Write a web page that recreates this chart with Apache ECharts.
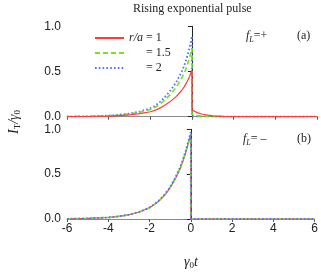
<!DOCTYPE html>
<html><head><meta charset="utf-8">
<script src="https://cdn.jsdelivr.net/npm/echarts@6/dist/echarts.min.js"></script>
<style>html,body{margin:0;padding:0;background:#fff}#c{width:321px;height:272px}</style>
</head><body><div id="c"></div>
<script>
// Time values gamma0*t
const tRise = [-6,-5,-4,-3.5,-3,-2.5,-2,-1.75,-1.5,-1.25,-1,-0.75,-0.5,-0.375,-0.25,-0.125,0];
// Panel (a) f_L = +  (rising part)
const aRed   = [0.0007,0.002,0.007,0.012,0.02,0.034,0.055,0.072,0.1,0.135,0.175,0.225,0.29,0.33,0.38,0.44,0.52];
const aGreen = [0.001,0.003,0.01,0.018,0.03,0.05,0.08,0.105,0.146,0.197,0.255,0.33,0.425,0.48,0.555,0.645,0.76];
const aBlue  = [0.0012,0.0035,0.012,0.021,0.034,0.058,0.094,0.123,0.171,0.231,0.3,0.385,0.495,0.565,0.65,0.755,0.89];
// Panel (a) decay after t=0
const tDecay = [0,0.25,0.5,0.75,1,1.5,2,3,6];
const aRedDecay   = [0.075,0.045,0.027,0.017,0.01,0.004,0.002,0.001,0];
const aGreenDecay = [0.025,0.012,0.005,0.002,0.001,0,0,0,0];
const aBlueDecay  = [0.003,0,0,0,0,0,0,0,0];
// Panel (b) f_L = -
const bRed   = [0.0025,0.0065,0.017,0.029,0.047,0.078,0.125,0.165,0.21,0.27,0.35,0.45,0.57,0.65,0.74,0.84,0.94];
const bGreen = [0.0025,0.0065,0.017,0.029,0.047,0.078,0.126,0.166,0.212,0.273,0.354,0.455,0.576,0.657,0.748,0.85,0.95];
const bBlue  = [0.0025,0.0066,0.017,0.03,0.048,0.08,0.128,0.169,0.216,0.278,0.36,0.463,0.587,0.668,0.762,0.865,0.97];
const bDecay = [0,0,0,0,0,0,0,0,0];
const names = ['r/a = 1','= 1.5','= 2'];
const xTicks = [-6,-4,-2,0,2,4,6];
const yTicks = [0,0.5,1];

const colors = ['#ff3b3b','#6ee619','#5c6cff'];
const styles = [
  {type:'solid', width:1.2},
  {type:[5,3], width:1.6},
  {type:[1.6,2.2], width:1.8}
];
function pairs(xs, ys){ return xs.map((x,i)=>[x, ys[i]]); }
function join(r, d){ return pairs(tRise, r).concat(pairs(tDecay, d)); }

const chart = echarts.init(document.getElementById('c'), null, {renderer:'canvas'});
const serif = '"Liberation Serif","DejaVu Serif",serif';
const sans = '"Liberation Sans",Arial,sans-serif';

function xAx(gi, showLabel){
  return {type:'value', gridIndex:gi, min:-6, max:6, interval:2,
    axisLine:{show:true, onZero:false, lineStyle:{color:'#8a8a8a', width:1}},
    axisTick:{show:true, inside:false, length:3, lineStyle:{color:'#555'}},
    splitLine:{show:false},
    axisLabel:{show:showLabel, fontFamily:sans, fontSize:12, color:'#222', margin:4,
      formatter:v=>xTicks.includes(v)?String(v):''}};
}
function yAx(gi){
  return {type:'value', gridIndex:gi, min:0, max:1, interval:0.5,
    axisLine:{show:true, lineStyle:{color:'#222', width:1}},
    axisTick:{show:true, length:4, lineStyle:{color:'#222'}},
    splitLine:{show:false},
    axisLabel:{fontFamily:sans, fontSize:12, color:'#222', margin:6,
      formatter:v=>yTicks.includes(v)?v.toFixed(1):''}};
}

const aSets = [[aRed,aRedDecay],[aGreen,aGreenDecay],[aBlue,aBlueDecay]];
const bSets = [bRed,bGreen,bBlue];
const series = [];
aSets.forEach((s,i)=>{
  series.push({name:names[i], type:'line', xAxisIndex:0, yAxisIndex:0, symbol:'none',
    data:join(s[0], s[1]), color:colors[i],
    lineStyle:Object.assign({color:colors[i]}, styles[i]), z:3-i, animation:false});
});
bSets.forEach((s,i)=>{
  series.push({name:names[i]+' b', type:'line', xAxisIndex:1, yAxisIndex:1, symbol:'none',
    data:join(s, bDecay), color:colors[i],
    lineStyle:Object.assign({color:colors[i]}, styles[i]), z:3, animation:false});
});

chart.setOption({
  animation:false,
  grid:[{left:67, right:4, top:26.3, height:90.4},
        {left:67, right:4, top:129.3, height:89.7}],
  xAxis:[xAx(0,false), xAx(1,true)],
  yAxis:[yAx(0), yAx(1)],
  legend:{data:names, orient:'vertical', left:89, top:27, itemWidth:29, itemHeight:10,
    itemGap:3, selectedMode:false,
    itemStyle:{color:'transparent', borderWidth:0, opacity:0},
    formatter:n=> n==='r/a = 1' ? '{a|r/a} {b|= 1}' : '{a|} {b|'+n+'}',
    textStyle:{fontFamily:serif, fontSize:12, color:'#222',
      rich:{a:{fontFamily:serif, fontStyle:'italic', fontSize:12, width:14, color:'#222'},
            b:{fontFamily:serif, fontSize:12, color:'#222'}}}},
  series:series,
  graphic:[
    {type:'text', left:133, top:3, style:{text:'Rising exponential pulse', font:'12px '+serif, fill:'#222'}},
    {type:'text', x:14, y:122, rotation:Math.PI/2, style:{
      text:'{i|I}{s|T}{i|/γ}{s|0}', align:'center', verticalAlign:'middle',
      rich:{i:{fontFamily:serif, fontStyle:'italic', fontSize:14, fill:'#222'},
            s:{fontFamily:serif, fontSize:9, fill:'#222', padding:[8,0,0,0]}}}},
    {type:'text', x:191, y:262, style:{
      text:'{i|γ}{s|0}{i|t}', align:'center', verticalAlign:'middle',
      rich:{i:{fontFamily:serif, fontStyle:'italic', fontSize:14, fill:'#222'},
            s:{fontFamily:serif, fontSize:9, fill:'#222', padding:[8,0,0,0]}}}},
    {type:'text', x:246, y:36, style:{
      text:'{i|f}{s|L}{n|=+}', verticalAlign:'middle',
      rich:{i:{fontFamily:serif, fontStyle:'italic', fontSize:12, fill:'#222'},
            s:{fontFamily:serif, fontStyle:'italic', fontSize:8, fill:'#222', padding:[8,0,0,0]},
            n:{fontFamily:serif, fontSize:12, fill:'#222'}}}},
    {type:'text', x:297, y:36, style:{text:'(a)', font:'12px '+serif, fill:'#222', verticalAlign:'middle'}},
    {type:'text', x:243, y:139, style:{
      text:'{i|f}{s|L}{n|= –}', verticalAlign:'middle',
      rich:{i:{fontFamily:serif, fontStyle:'italic', fontSize:12, fill:'#222'},
            s:{fontFamily:serif, fontStyle:'italic', fontSize:8, fill:'#222', padding:[8,0,0,0]},
            n:{fontFamily:serif, fontSize:12, fill:'#222'}}}},
    {type:'text', x:297, y:139, style:{text:'(b)', font:'12px '+serif, fill:'#222', verticalAlign:'middle'}}
  ]
});
</script></body></html>
